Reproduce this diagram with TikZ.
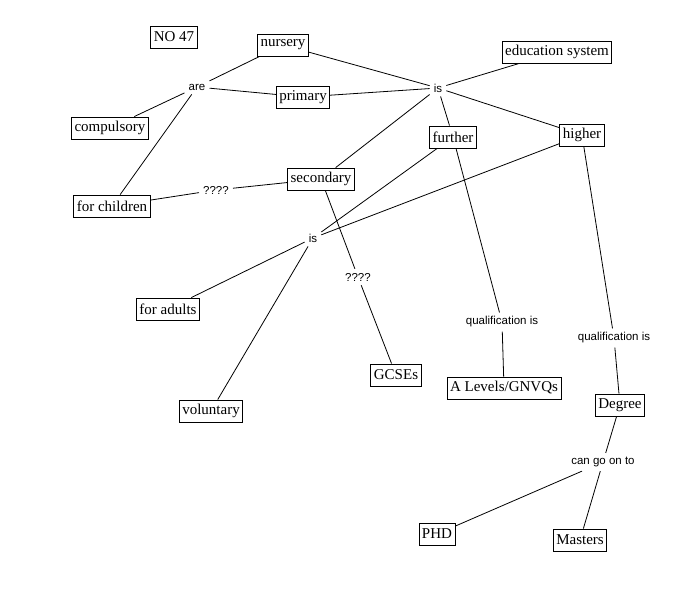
\documentclass[tikz,border=0pt]{standalone}
\usepackage{fontspec}
\setmainfont{Liberation Serif}
\newfontfamily\linkfont{Liberation Sans}
\begin{document}
\begin{tikzpicture}[x=1pt,y=-1pt,
  concept/.style={draw,line width=0.9pt,font=\fontsize{15}{17}\selectfont,inner xsep=3pt,inner ysep=2.5pt,minimum height=22pt},
  linkph/.style={font=\linkfont\fontsize{11.5}{13}\selectfont,inner sep=4pt},
  conn/.style={line width=0.8pt}]
\useasboundingbox (0,0) rectangle (697,590);
\fill[white] (0,0) rectangle (697,590);
% concepts
\node[concept] (no47) at (174,37) {NO 47};
\node[concept] (nursery) at (283,45) {nursery};
\node[concept] (edu) at (557,52) {education system};
\node[concept] (primary) at (303,97) {primary};
\node[concept] (compulsory) at (110,128) {compulsory};
\node[concept] (further) at (453,137) {further};
\node[concept] (higher) at (582,135) {higher};
\node[concept] (secondary) at (321,179) {secondary};
\node[concept] (children) at (112,206) {for children};
\node[concept] (adults) at (168,309) {for adults};
\node[concept] (gcse) at (396,375) {GCSEs};
\node[concept] (alevels) at (504,388) {A Levels/GNVQs};
\node[concept] (voluntary) at (211,411) {voluntary};
\node[concept] (degree) at (620,405) {Degree};
\node[concept] (phd) at (437,534) {PHD};
\node[concept] (masters) at (580,540) {Masters};
% linking phrases
\node[linkph] (are) at (197,87) {are};
\node[linkph] (istop) at (438,88) {is};
\node[linkph] (q1) at (216,190) {????};
\node[linkph] (islow) at (313,238) {is};
\node[linkph] (q2) at (358,277) {????};
\node[linkph] (qual1) at (502,322) {qualification is};
\node[linkph] (qual2) at (614,338) {qualification is};
\node[linkph] (cango) at (603,462) {can go on to};
% connectors
\draw[conn] (are) -- (nursery);
\draw[conn] (are) -- (primary);
\draw[conn] (are) -- (compulsory);
\draw[conn] (are) -- (children);
\draw[conn] (nursery) -- (istop);
\draw[conn] (primary) -- (istop);
\draw[conn] (istop) -- (edu);
\draw[conn] (istop) -- (secondary);
\draw[conn] (istop) -- (further);
\draw[conn] (istop) -- (higher);
\draw[conn] (children) -- (q1);
\draw[conn] (q1) -- (secondary);
\draw[conn] (secondary) -- (q2);
\draw[conn] (q2) -- (gcse);
\draw[conn] (further) -- (islow);
\draw[conn] (higher) -- (islow);
\draw[conn] (islow) -- (adults);
\draw[conn] (islow) -- (voluntary);
\draw[conn] (further) -- (qual1);
\draw[conn] (qual1) -- (alevels);
\draw[conn] (higher) -- (qual2);
\draw[conn] (qual2) -- (degree);
\draw[conn] (degree) -- (cango);
\draw[conn] (cango) -- (phd);
\draw[conn] (cango) -- (masters);
\end{tikzpicture}
\end{document}
